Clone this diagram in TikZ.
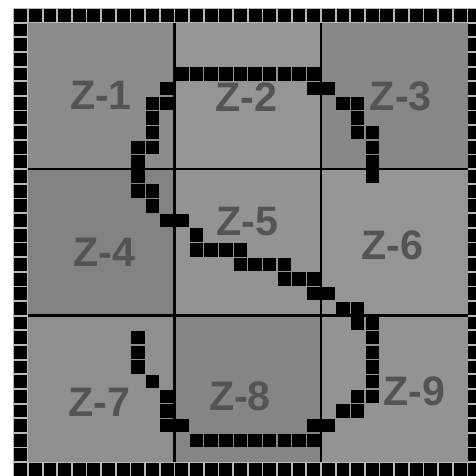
\documentclass[tikz,border=0pt]{standalone}
\usepackage{fontspec}
\setmainfont{Liberation Sans}
\begin{document}
\begin{tikzpicture}[x=0.5cm,y=-0.5cm,
  lbl/.style={font=\fontsize{40}{40}\selectfont\bfseries, text=black!67, inner sep=0pt, anchor=center},
  gridline/.style={line width=2.4pt, black}]
\useasboundingbox (-1.91,-1.55) rectangle (30.58,30.94);
\clip (-1.91,-1.55) rectangle (30.58,30.94);
\fill[white] (-1.91,-1.55) rectangle (30.58,30.94);
% cells
\definecolor{c1}{gray}{0.545}
\definecolor{c2}{gray}{0.585}
\definecolor{c3}{gray}{0.530}
\definecolor{c4}{gray}{0.510}
\definecolor{c5}{gray}{0.575}
\definecolor{c6}{gray}{0.585}
\definecolor{c7}{gray}{0.560}
\definecolor{c8}{gray}{0.520}
\definecolor{c9}{gray}{0.575}
\fill[c1] (0,0) rectangle (10,10);
\fill[c2] (10,0) rectangle (20,10);
\fill[c3] (20,0) rectangle (30,10);
\fill[c4] (0,10) rectangle (10,20);
\fill[c5] (10,10) rectangle (20,20);
\fill[c6] (20,10) rectangle (30,20);
\fill[c7] (0,20) rectangle (10,30);
\fill[c8] (10,20) rectangle (20,30);
\fill[c9] (20,20) rectangle (30,30);
% grid lines
\draw[gridline] (10,0) -- (10,30);
\draw[gridline] (20,0) -- (20,30);
\draw[gridline] (0,10) -- (30,10);
\draw[gridline] (0,20) -- (30,20);
% border squares
\fill[gray!55] (-1,-1) rectangle (31,0);
\fill[gray!55] (-1,30) rectangle (31,31);
\fill[gray!55] (-1,0) rectangle (0,30);
\fill[gray!55] (30,0) rectangle (31,30);
\foreach \i in {-1,...,30} {
  \fill[black] (\i+0.06,-1+0.06) rectangle +(0.88,0.88);
  \fill[black] (\i+0.06,30+0.06) rectangle +(0.88,0.88);
}
\foreach \j in {0,...,29} {
  \fill[black] (-1+0.06,\j+0.06) rectangle +(0.88,0.88);
  \fill[black] (30+0.06,\j+0.06) rectangle +(0.88,0.88);
}
% path squares
\foreach \i/\j in {
  7/8,8/8,8/7,8/6,8/5,9/5,9/4,
  10/3,11/3,12/3,13/3,14/3,15/3,16/3,17/3,18/3,19/3,
  19/4,20/4,21/5,22/5,22/6,22/7,23/7,23/8,23/9,23/10,
  7/9,7/10,7/11,8/11,8/12,9/13,10/13,11/14,
  11/15,12/15,13/15,14/15,14/16,15/16,16/16,17/16,
  17/17,18/17,19/17,19/18,20/18,21/19,22/19,22/20,23/20,
  23/21,23/22,23/23,23/24,23/25,22/25,22/26,21/26,20/27,19/27,
  11/28,12/28,13/28,14/28,15/28,16/28,17/28,18/28,19/28,
  10/27,9/27,9/26,9/25,8/24,7/23,7/22,7/21} {
  \fill[black] (\i+0.04,\j+0.04) rectangle +(0.92,0.92);
}
% labels
\node[lbl] (z1) at (4.98,4.93) {Z-1};
\node[lbl] (z2) at (14.9,5.11) {Z-2};
\node[lbl] (z3) at (25.45,5.0) {Z-3};
\node[lbl] (z4) at (5.23,15.65) {Z-4};
\node[lbl] (z5) at (14.98,13.58) {Z-5};
\node[lbl] (z6) at (24.85,15.17) {Z-6};
\node[lbl] (z7) at (4.85,25.92) {Z-7};
\node[lbl] (z8) at (14.47,25.53) {Z-8};
\node[lbl] (z9) at (26.35,25.19) {Z-9};
\end{tikzpicture}
\end{document}
